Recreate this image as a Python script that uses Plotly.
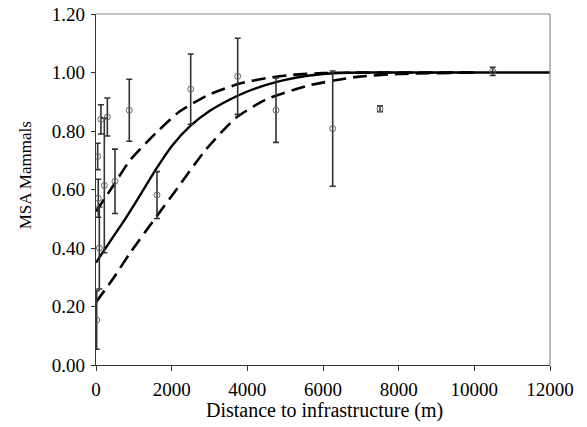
import plotly.graph_objects as go

# Observed data (distance in m, MSA mammals, +/- error)
obs_x = [18, 44, 60, 88, 130, 220, 300, 502, 880, 1612, 2503, 3745, 4758, 6256, 7507, 10486]
obs_y = [0.154, 0.713, 0.570, 0.400, 0.840, 0.614, 0.848, 0.628, 0.871, 0.581, 0.943, 0.987, 0.871, 0.808, 0.876, 1.004]
obs_err = [0.10, 0.045, 0.065, 0.14, 0.05, 0.23, 0.065, 0.11, 0.106, 0.08, 0.12, 0.13, 0.11, 0.197, 0.01, 0.014]

# Fitted curve
fit_x = [0, 400, 800, 1200, 1600, 2000, 2500, 3000, 3500, 4000, 4500, 5000, 5500, 6000, 7000, 8000, 12000]
fit_y = [0.35, 0.428, 0.505, 0.588, 0.672, 0.748, 0.818, 0.868, 0.905, 0.935, 0.958, 0.975, 0.987, 0.995, 1.0, 1.0, 1.0]

# Upper confidence curve
up_x = [0, 450, 900, 1600, 2200, 3000, 3800, 4500, 5200, 6000, 7000, 10000]
up_y = [0.525, 0.612, 0.70, 0.795, 0.866, 0.925, 0.962, 0.981, 0.992, 0.998, 1.0, 1.0]

# Lower confidence curve
lo_x = [0, 450, 900, 1600, 2200, 2900, 3700, 4500, 5600, 6900, 8000, 10000]
lo_y = [0.215, 0.295, 0.383, 0.508, 0.613, 0.736, 0.845, 0.908, 0.955, 0.985, 0.995, 1.0]

x_ticks = [0, 2000, 4000, 6000, 8000, 10000, 12000]
y_ticks = [0.0, 0.2, 0.4, 0.6, 0.8, 1.0, 1.2]

x_title = "Distance to infrastructure (m)"
y_title = "MSA Mammals"

FONT = "Liberation Serif, Times New Roman, serif"

fig = go.Figure()

fig.add_trace(go.Scatter(
    x=up_x, y=up_y, mode="lines",
    line=dict(color="black", width=2.6, dash="14px,7px", shape="spline", smoothing=0.6),
    hoverinfo="skip", showlegend=False))
fig.add_trace(go.Scatter(
    x=lo_x, y=lo_y, mode="lines",
    line=dict(color="black", width=2.6, dash="14px,7px", shape="spline", smoothing=0.6),
    hoverinfo="skip", showlegend=False))
fig.add_trace(go.Scatter(
    x=fit_x, y=fit_y, mode="lines",
    line=dict(color="black", width=2.4, shape="spline", smoothing=0.6),
    hoverinfo="skip", showlegend=False))

fig.add_trace(go.Scatter(
    x=obs_x, y=obs_y, mode="markers",
    marker=dict(symbol="circle-open", size=6, color="#666666", line=dict(width=1, color="#666666")),
    error_y=dict(type="data", array=obs_err, visible=True, color="#333333", thickness=1.6, width=3),
    showlegend=False))

fig.update_layout(
    width=587, height=427,
    margin=dict(l=96, r=37, t=14, b=62, autoexpand=False),
    paper_bgcolor="white", plot_bgcolor="white",
    font=dict(family=FONT, color="black", size=17),
    showlegend=False,
)

fig.update_xaxes(
    range=[0, 12000], tickvals=x_ticks, ticktext=[str(v) for v in x_ticks],
    showgrid=False, zeroline=False, showline=True, linecolor="#333333", linewidth=1.2,
    ticks="outside", ticklen=5, tickcolor="#333333", tickwidth=1.2,
    tickfont=dict(family=FONT, size=19), ticklabelstandoff=2, automargin=False,
    ticklabeloverflow="allow",
)
fig.update_yaxes(
    range=[0, 1.2], tickvals=y_ticks, ticktext=[f"{v:.2f}" for v in y_ticks],
    showgrid=False, zeroline=False, showline=True, linecolor="#333333", linewidth=1.2,
    ticks="outside", ticklen=4, tickcolor="#333333", tickwidth=1.2,
    tickfont=dict(family=FONT, size=19), ticklabelstandoff=2, automargin=False,
    ticklabeloverflow="allow",
)

# axis titles as annotations for exact placement
fig.add_annotation(text=x_title, xref="paper", yref="paper", x=0.504, y=-0.131,
                   xanchor="center", yanchor="middle", showarrow=False,
                   font=dict(family=FONT, size=20, color="black"))
fig.add_annotation(text=y_title, xref="paper", yref="paper", x=-0.156, y=0.541,
                   xanchor="center", yanchor="middle", showarrow=False, textangle=-90,
                   font=dict(family=FONT, size=17, color="black"))

# grey frame on top and right
fig.add_shape(type="line", xref="paper", yref="paper", x0=0, x1=1, y0=1, y1=1,
              line=dict(color="#888888", width=1.2))
fig.add_shape(type="line", xref="paper", yref="paper", x0=1, x1=1, y0=0, y1=1,
              line=dict(color="#888888", width=1.2))

fig.write_html("out.html", config={"displayModeBar": False},
               post_script="document.body.style.margin='0';")
